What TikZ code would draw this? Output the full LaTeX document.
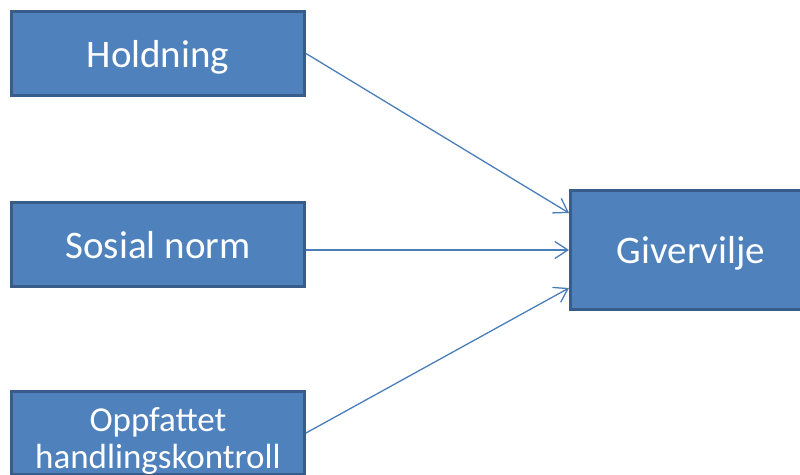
\documentclass[tikz,border=0pt]{standalone}
\usepackage{fontspec}
\setmainfont{Carlito}
\usetikzlibrary{arrows.meta, positioning}

\definecolor{boxfill}{HTML}{4F81BD}
\definecolor{boxline}{HTML}{385D8A}
\definecolor{arrowline}{HTML}{4A7EBB}

\tikzset{
  factor/.style={rectangle, draw=boxline, fill=boxfill, line width=3pt,
    text=white, font=\fontsize{39}{46}\selectfont, inner sep=0pt},
  link/.style={draw=arrowline, line width=1.3pt,
    -{Straight Barb[length=13pt, width=17pt, line width=1.3pt]}}
}

\begin{document}
\begin{tikzpicture}[x=1pt, y=-1pt]
  \useasboundingbox (0,0) rectangle (800,474);
  \clip (0,0) rectangle (800,474);

  \node[factor, minimum width=293pt, minimum height=84pt, text depth=0pt]
    (hold) at (158,53.5) {Holdning};
  \node[factor, minimum width=293pt, minimum height=84pt, text depth=0pt]
    (norm) at (158,244.5) {Sosial norm};
  \node[factor, minimum width=293pt, minimum height=79pt, text width=293pt,
    align=center, font=\fontsize{35}{37.5}\selectfont] (kontroll) at (158,433)
    {\rule{0pt}{40pt}Oppfattet\\handlingskontroll};
  \node[factor, minimum width=241pt, minimum height=119pt, text depth=0pt]
    (giver) at (691,250) {Givervilje};

  \draw[link] (hold.east) -- ([yshift=37pt]giver.west);
  \draw[link] ([yshift=-5.5pt]norm.east) -- (giver.west);
  \draw[link] (kontroll.east) -- ([yshift=-38pt]giver.west);
\end{tikzpicture}
\end{document}
